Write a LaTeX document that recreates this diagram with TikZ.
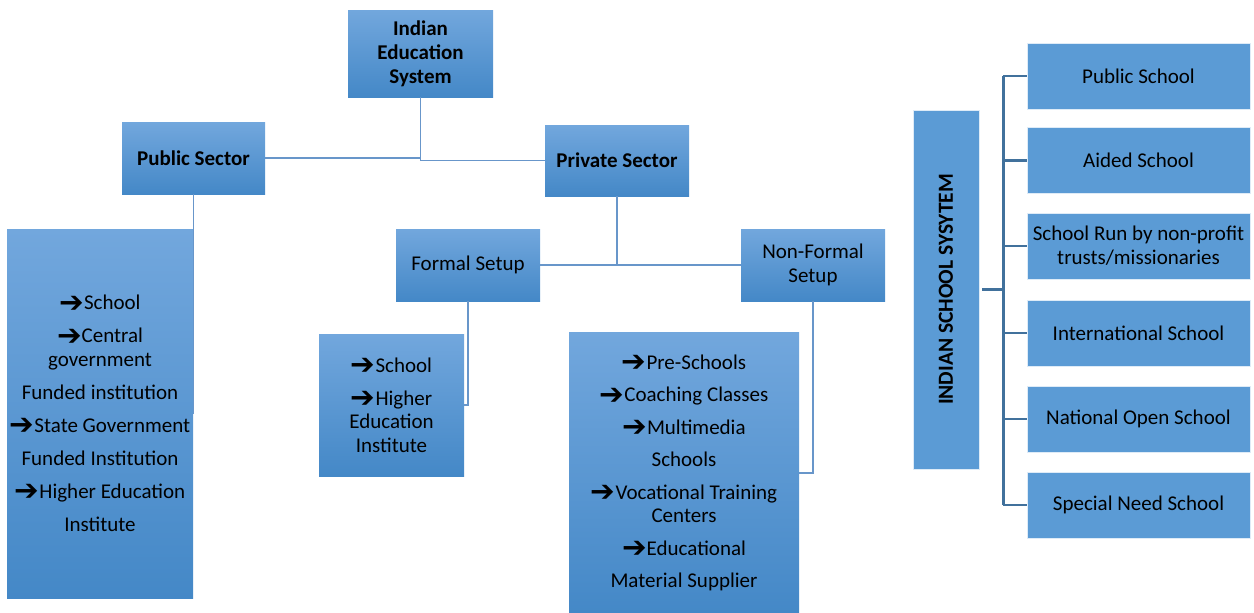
\documentclass[tikz,border=0pt]{standalone}
\usepackage{graphicx}
\usepackage{fontspec}
\setmainfont{Carlito}
\newfontfamily\arrowfont{DejaVu Sans}
\newcommand{\itemarrow}{\raisebox{-2.5pt}{\scalebox{1.4}{\arrowfont ➔}}}
\definecolor{boxtop}{RGB}{114,167,221}
\definecolor{boxbottom}{RGB}{68,136,199}
\definecolor{boxflat}{RGB}{91,155,213}
\definecolor{linkblue}{RGB}{104,150,202}
\definecolor{barblue}{RGB}{65,113,156}
\usetikzlibrary{calc}

\begin{document}
\begin{tikzpicture}[x=1pt,y=-1pt,
  gradbox/.style={top color=boxtop,bottom color=boxbottom,inner sep=0pt,align=center,
    font=\fontsize{21}{23.5}\selectfont},
  headbox/.style={gradbox,font=\bfseries\fontsize{21}{24}\selectfont},
  flatbox/.style={fill=boxflat,draw=white!80!boxflat,line width=0.6pt,inner sep=0pt,align=center,
    font=\fontsize{21}{24}\selectfont},
  link/.style={linkblue,line width=1.5pt},
  bar/.style={barblue,line width=2.5pt}]
  \useasboundingbox (0,0) rectangle (1254,613);

  % left tree
  \node[headbox,minimum width=145pt,minimum height=87pt] (ies) at (420.5,53.5) {Indian\\Education\\System};
  \node[headbox,minimum width=143pt,minimum height=72pt] (pubsec) at (193.5,158) {Public Sector};
  \node[headbox,minimum width=144pt,minimum height=71pt] (pvtsec) at (617,160.5) {Private Sector};
  \node[gradbox,minimum width=144pt,minimum height=72pt] (formal) at (468,265) {Formal Setup};
  \node[gradbox,minimum width=144pt,minimum height=72pt,font=\fontsize{21}{24}\selectfont] (nonformal) at (813,265) {Non-Formal\\Setup};
  \node[gradbox,minimum width=186pt,minimum height=369pt] (publist) at (100,413.5)
    {\itemarrow School\\[9.5pt]
     \itemarrow Central\\government\\[9.5pt]
     Funded institution\\[9.5pt]
     \itemarrow State Government\\[9.5pt]
     Funded Institution\\[9.5pt]
     \itemarrow Higher Education\\[9.5pt]
     Institute};
  \node[gradbox,minimum width=145pt,minimum height=142pt] (formallist) at (391.5,405)
    {\itemarrow School\\[9.5pt]
     \itemarrow Higher\\Education\\Institute};
  \node[gradbox,minimum width=230pt,minimum height=282pt] (nflist) at (684,473)
    {\itemarrow Pre-Schools\\[9pt]
     \itemarrow Coaching Classes\\[9pt]
     \itemarrow Multimedia\\[9pt]
     Schools\\[9pt]
     \itemarrow Vocational Training\\Centers\\[9pt]
     \itemarrow Educational\\[9pt]
     Material Supplier};

  \draw[link] (pubsec.east) -| (ies.south);
  \draw[link] (ies.south) |- (pvtsec.west);
  \draw[link] (pvtsec.south) -- (pvtsec.south |- formal.east);
  \draw[link] (formal.east) -- (nonformal.west);
  \draw[link] (pubsec.south) |- (publist.east);
  \draw[link] (formal.south) |- (formallist.east);
  \draw[link] (nonformal.south) |- (nflist.east);

  % right tree
  \node[flatbox,rotate=90,minimum width=359pt,minimum height=66pt,font=\bfseries\fontsize{21.5}{24}\selectfont] (iss) at (946,289.5) {INDIAN SCHOOL SYSYTEM};
  \node[flatbox,minimum width=223pt,minimum height=66pt] (rpublic) at (1138.5,76) {Public School};
  \node[flatbox,minimum width=223pt,minimum height=66pt] (raided) at (1138.5,160.5) {Aided School};
  \node[flatbox,minimum width=223pt,minimum height=66pt] (rtrust) at (1138.5,246) {School Run by non-profit\\trusts/missionaries};
  \node[flatbox,minimum width=223pt,minimum height=66pt] (rintl) at (1138.5,333) {International School};
  \node[flatbox,minimum width=223pt,minimum height=66pt] (ropen) at (1138.5,419) {National Open School};
  \node[flatbox,minimum width=223pt,minimum height=66pt] (rspecial) at (1138.5,505) {Special Need School};

  \draw[bar] ($(iss.south)+(3,0)$) -- ++(21,0) coordinate (hub);
  \draw[bar] (hub |- rpublic.west) -- (hub |- rspecial.west);
  \draw[bar] (hub |- rpublic.west) -- (rpublic.west);
  \draw[bar] (hub |- raided.west) -- (raided.west);
  \draw[bar] (hub |- rtrust.west) -- (rtrust.west);
  \draw[bar] (hub |- rintl.west) -- (rintl.west);
  \draw[bar] (hub |- ropen.west) -- (ropen.west);
  \draw[bar] (hub |- rspecial.west) -- (rspecial.west);
\end{tikzpicture}
\end{document}
